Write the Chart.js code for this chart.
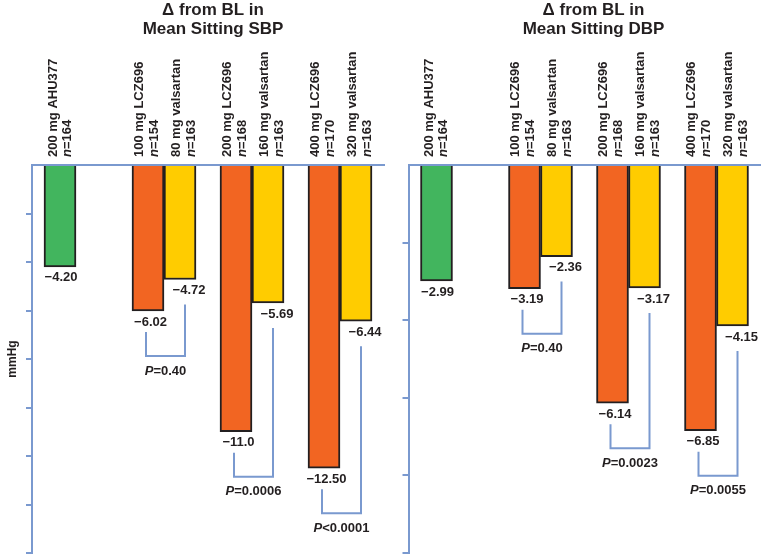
<!DOCTYPE html>
<html>
<head>
<meta charset="utf-8">
<script src="https://cdn.jsdelivr.net/npm/chart.js@4/dist/chart.umd.min.js"></script>
<style>
  html, body { margin: 0; padding: 0; background: #ffffff; }
  #wrap { position: relative; width: 762px; height: 557px; overflow: hidden; background: #fff; }
  canvas { position: absolute; top: 0; }
</style>
</head>
<body>
<div id="wrap">
  <canvas id="sbp" width="392" height="557" style="left:0px"></canvas>
  <canvas id="dbp" width="370" height="557" style="left:392px"></canvas>
</div>
<script>
// ---------- data ----------
const categories = ['200 mg AHU377', '100 mg LCZ696 / 80 mg valsartan', '200 mg LCZ696 / 160 mg valsartan', '400 mg LCZ696 / 320 mg valsartan'];
const ahuLabels = ['200 mg AHU377'];
const ahuN = ['164'];
const lczLabels = ['100 mg LCZ696', '200 mg LCZ696', '400 mg LCZ696'];
const lczN = ['154', '168', '170'];
const valLabels = ['80 mg valsartan', '160 mg valsartan', '320 mg valsartan'];
const valN = ['163', '163', '163'];

const sbpAhu = [-4.20];
const sbpLcz = [-6.02, -11.0, -12.50];
const sbpVal = [-4.72, -5.69, -6.44];
const sbpAhuText = ['\u22124.20'];
const sbpLczText = ['\u22126.02', '\u221211.0', '\u221212.50'];
const sbpValText = ['\u22124.72', '\u22125.69', '\u22126.44'];
const sbpP = ['=0.40', '=0.0006', '<0.0001'];

const dbpAhu = [-2.99];
const dbpLcz = [-3.19, -6.14, -6.85];
const dbpVal = [-2.36, -3.17, -4.15];
const dbpAhuText = ['\u22122.99'];
const dbpLczText = ['\u22123.19', '\u22126.14', '\u22126.85'];
const dbpValText = ['\u22122.36', '\u22123.17', '\u22124.15'];
const dbpP = ['=0.40', '=0.0023', '=0.0055'];

const sbpTitle = ['\u0394 from BL in', 'Mean Sitting SBP'];
const dbpTitle = ['\u0394 from BL in', 'Mean Sitting DBP'];
const yAxisTitle = 'mmHg';

// ---------- style ----------
const GREEN = 'rgb(66,181,94)';
const ORANGE = 'rgb(242,101,34)';
const YELLOW = 'rgb(255,204,0)';
const EDGE = 'rgb(35,31,32)';
const AXIS = 'rgb(122,153,207)';
const TEXT = 'rgb(35,31,32)';
const FONT = '"Liberation Sans", Arial, Helvetica, sans-serif';

function mixedWidth(ctx, parts, size) {
  let w = 0;
  for (const p of parts) {
    ctx.font = (p.i ? 'italic ' : '') + 'bold ' + size + 'px ' + FONT;
    w += ctx.measureText(p.t).width;
  }
  return w;
}
function drawMixed(ctx, parts, x, y, size, align) {
  const total = mixedWidth(ctx, parts, size);
  let cx = align === 'center' ? x - total / 2 : x;
  ctx.textAlign = 'left';
  for (const p of parts) {
    ctx.font = (p.i ? 'italic ' : '') + 'bold ' + size + 'px ' + FONT;
    ctx.fillText(p.t, cx, y);
    cx += ctx.measureText(p.t).width;
  }
}

function buildPanel(id, panel) {
  const leftSlot = [...panel.ahu, ...panel.lcz];
  const rightSlot = [null, ...panel.val];
  const leftColors = [...panel.ahu.map(() => GREEN), ...panel.lcz.map(() => ORANGE)];
  const leftText = [...panel.ahuText, ...panel.lczText];
  const leftLab = [...ahuLabels, ...lczLabels];
  const leftN = [...ahuN, ...lczN];

  const annot = {
    id: 'annot_' + id,
    afterDraw(chart) {
      const ctx = chart.ctx;
      const area = chart.chartArea;
      const m0 = chart.getDatasetMeta(0);
      const m1 = chart.getDatasetMeta(1);
      ctx.save();
      ctx.fillStyle = TEXT;
      // title
      ctx.font = 'bold 17px ' + FONT;
      ctx.textAlign = 'center';
      ctx.textBaseline = 'middle';
      ctx.fillText(panel.title[0], panel.titleX, 10);
      ctx.fillText(panel.title[1], panel.titleX, 29);

      const rotLabel = (x, l1, n, o1, o2) => {
        ctx.save();
        ctx.translate(x, area.top - 8);
        ctx.rotate(-Math.PI / 2);
        ctx.textBaseline = 'middle';
        ctx.textAlign = 'left';
        ctx.font = 'bold 13px ' + FONT;
        ctx.fillText(l1, 0, o1);
        drawMixed(ctx, [{t: 'n', i: true}, {t: '=' + n}], 0, o2, 13, 'left');
        ctx.restore();
      };

      ctx.textBaseline = 'middle';
      for (let i = 0; i < leftSlot.length; i++) {
        const b = m0.data[i];
        const isAhu = i < panel.ahu.length;
        rotLabel(b.x, leftLab[i], leftN[i], isAhu ? -7 : -9, isAhu ? 7 : 6);
        ctx.font = 'bold 13px ' + FONT;
        ctx.textAlign = 'center';
        ctx.fillText(leftText[i], b.x + (isAhu ? 1 : 2.5), b.y + 11);
      }
      ctx.strokeStyle = AXIS;
      ctx.lineWidth = 2;
      for (let j = 0; j < panel.val.length; j++) {
        const i = j + panel.ahu.length;
        const a = m0.data[i];
        const b = m1.data[i];
        rotLabel(b.x, valLabels[j], valN[j], -4, 11);
        ctx.font = 'bold 13px ' + FONT;
        ctx.textAlign = 'center';
        ctx.fillText(panel.valText[j], b.x + 9, b.y + 11);
        // bracket
        const lx = a.x - 2, rx = b.x + 5;
        const bottom = a.y + 45;
        ctx.beginPath();
        ctx.moveTo(lx, a.y + 21);
        ctx.lineTo(lx, bottom);
        ctx.lineTo(rx, bottom);
        ctx.lineTo(rx, b.y + 25);
        ctx.stroke();
        drawMixed(ctx, [{t: 'P', i: true}, {t: panel.p[j]}], (lx + rx) / 2, bottom + 15, 13, 'center');
      }
      ctx.restore();
    }
  };

  return new Chart(document.getElementById(id), {
    type: 'bar',
    data: {
      labels: categories,
      datasets: [
        { data: leftSlot, backgroundColor: leftColors, borderColor: EDGE, borderWidth: 2, borderSkipped: 'start', barThickness: 32 },
        { data: rightSlot, backgroundColor: YELLOW, borderColor: EDGE, borderWidth: 2, borderSkipped: 'start', barThickness: 32 }
      ]
    },
    options: {
      responsive: false,
      animation: false,
      devicePixelRatio: 1,
      layout: { padding: panel.padding },
      plugins: { legend: { display: false }, tooltip: { enabled: false }, title: { display: false } },
      scales: {
        x: {
          position: 'top', z: 1,
          grid: { display: false, drawTicks: false },
          ticks: { display: false },
          border: { display: true, color: AXIS, width: 2 }
        },
        y: {
          min: panel.min, max: 0,
          ticks: { display: false, stepSize: 2 },
          grid: {
            drawOnChartArea: false, drawTicks: true, tickLength: 6, lineWidth: 2,
            color: (c) => (c.tick && c.tick.value === 0) ? 'rgba(0,0,0,0)' : AXIS
          },
          border: { display: true, color: AXIS, width: 2 },
          title: panel.yTitle
        }
      }
    },
    plugins: [annot]
  });
}

buildPanel('sbp', {
  ahu: sbpAhu, lcz: sbpLcz, val: sbpVal,
  ahuText: sbpAhuText, lczText: sbpLczText, valText: sbpValText,
  p: sbpP, title: sbpTitle, titleX: 213, min: -16,
  padding: { left: 0, right: 8, top: 165, bottom: 4 },
  yTitle: { display: true, text: yAxisTitle, color: TEXT, font: { family: FONT, size: 12, weight: 'bold', lineHeight: 1.2 }, padding: { top: 5, bottom: 6.6 } }
});
buildPanel('dbp', {
  ahu: dbpAhu, lcz: dbpLcz, val: dbpVal,
  ahuText: dbpAhuText, lczText: dbpLczText, valText: dbpValText,
  p: dbpP, title: dbpTitle, titleX: 201.5, min: -10,
  padding: { left: 10.5, right: 1.5, top: 165, bottom: 4 },
  yTitle: { display: false }
});
</script>
</body>
</html>
